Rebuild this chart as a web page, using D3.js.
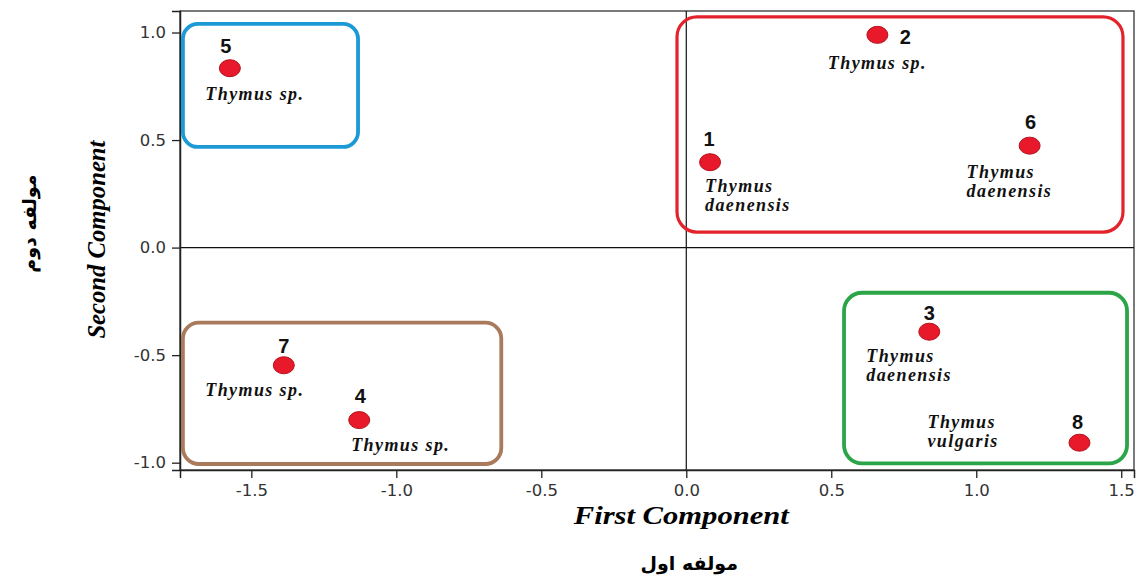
<!DOCTYPE html>
<html>
<head>
<meta charset="utf-8">
<script src="https://cdn.jsdelivr.net/npm/d3@7"></script>
<style>
	body { margin: 0; background: #fff; }
	svg { display: block; }
</style>
</head>
<body>
<div class="js-graph"></div>
<script>
// sample scores on the first two components
var ids = ['1', '2', '3', '4', '5', '6', '7', '8'],
	firstComp = [0.082, 0.659, 0.838, -1.128, -1.574, 1.184, -1.388, 1.356],
	secondComp = [0.397, 0.989, -0.391, -0.802, 0.834, 0.474, -0.547, -0.907],
	species = [
		['Thymus', 'daenensis'], ['Thymus sp.'], ['Thymus', 'daenensis'], ['Thymus sp.'],
		['Thymus sp.'], ['Thymus', 'daenensis'], ['Thymus sp.'], ['Thymus', 'vulgaris']
	],
	xTicks = [-1.5, -1.0, -0.5, 0.0, 0.5, 1.0, 1.5],
	yTicks = [-1.0, -0.5, 0.0, 0.5, 1.0];

// group boxes in data units
var groupNames = ['blue', 'red', 'brown', 'green'],
	groupX = [[-1.736, -1.132], [-0.032, 1.506], [-1.736, -0.638], [0.544, 1.52]],
	groupY = [[0.468, 1.04], [0.072, 1.073], [-1.006, -0.349], [-1.003, -0.21]];

(function(d3) {
	var W = 1140, H = 581,
		m = { top: 11, right: 6, bottom: 111, left: 180 },
		iw = W - m.left - m.right,
		ih = H - m.top - m.bottom;

	var svg = d3.select('.js-graph').append('svg')
		.attr('width', W).attr('height', H);

	var x = d3.scaleLinear().domain([-1.746, 1.544]).range([0, iw]),
		y = d3.scaleLinear().domain([-1.034, 1.1]).range([ih, 0]);

	var g = svg.append('g').attr('transform', 'translate(' + m.left + ',' + m.top + ')');

	// frame
	g.append('rect')
		.attr('width', iw).attr('height', ih)
		.attr('fill', 'none').attr('stroke', '#222').attr('stroke-width', 1.2);

	// zero lines
	g.append('line')
		.attr('x1', x(0)).attr('x2', x(0)).attr('y1', 0).attr('y2', ih)
		.attr('stroke', '#111').attr('stroke-width', 1.2);
	g.append('line')
		.attr('x1', 0).attr('x2', iw).attr('y1', y(0)).attr('y2', y(0))
		.attr('stroke', '#111').attr('stroke-width', 1.2);

	// axes (plain hyphen for negatives, like the original)
	var fmt = function(v) { return d3.format('.1f')(v).replace('\u2212', '-'); };
	var xAxis = g.append('g')
		.attr('transform', 'translate(0,' + ih + ')')
		.call(d3.axisBottom(x).tickValues(xTicks).tickFormat(fmt).tickSize(8).tickPadding(6));
	var yAxis = g.append('g')
		.call(d3.axisLeft(y).tickValues(yTicks).tickFormat(fmt).tickSize(8).tickPadding(6));
	[xAxis, yAxis].forEach(function(a) {
		a.select('.domain').attr('stroke', '#222').attr('stroke-width', 1.5);
		a.selectAll('.tick line').attr('stroke', '#222').attr('stroke-width', 1.3);
		a.selectAll('.tick text')
			.attr('fill', '#333')
			.style('font-family', 'DejaVu Sans, Verdana, sans-serif')
			.style('font-size', '16.5px');
	});

	// group boxes
	var groupColor = { blue: '#1c9ad6', red: '#e2232b', brown: '#a97a5c', green: '#2ba547' },
		groupRadius = { blue: 15, red: 20, brown: 16, green: 18 };
	g.selectAll('rect.group')
		.data(groupNames)
		.enter()
		.append('rect')
		.attr('class', 'group')
		.attr('x', function(d, i) { return x(groupX[i][0]); })
		.attr('y', function(d, i) { return y(groupY[i][1]); })
		.attr('width', function(d, i) { return x(groupX[i][1]) - x(groupX[i][0]); })
		.attr('height', function(d, i) { return y(groupY[i][0]) - y(groupY[i][1]); })
		.attr('rx', function(d) { return groupRadius[d]; })
		.attr('fill', 'none')
		.attr('stroke', function(d) { return groupColor[d]; })
		.attr('stroke-width', function(d) { return d === 'red' ? 3.2 : 3.8; });

	var points = ids.map(function(id, i) {
		return { id: id, x: firstComp[i], y: secondComp[i], name: species[i] };
	});

	// label offsets in pixels: [numDx, numDy, nameDx, nameDy, anchor]
	var offs = {
		'1': [-1, -16, -5, 30, 'start'],
		'2': [28, 9, 0, 34, 'middle'],
		'3': [0, -12, -63, 30, 'start'],
		'4': [1, -17, -8, 31, 'start'],
		'5': [-4, -15, 25, 32, 'middle'],
		'6': [1, -17, -63, 32, 'start'],
		'7': [0, -12, -29, 31, 'middle'],
		'8': [-2, -14, -152, -15, 'start']
	};

	g.selectAll('ellipse.pt')
		.data(points)
		.enter()
		.append('ellipse')
		.attr('class', 'pt')
		.attr('cx', function(d) { return x(d.x); })
		.attr('cy', function(d) { return y(d.y); })
		.attr('rx', 10.5)
		.attr('ry', 8.5)
		.attr('fill', '#e8192a')
		.attr('stroke', '#b3121c')
		.attr('stroke-width', 1);

	g.selectAll('text.num')
		.data(points)
		.enter()
		.append('text')
		.attr('class', 'num')
		.attr('x', function(d) { return x(d.x) + offs[d.id][0]; })
		.attr('y', function(d) { return y(d.y) + offs[d.id][1]; })
		.attr('text-anchor', 'middle')
		.style('font-family', 'Liberation Sans, Arial, sans-serif')
		.style('font-weight', 'bold')
		.style('font-size', '20px')
		.attr('fill', '#111')
		.text(function(d) { return d.id; });

	var names = g.selectAll('text.name')
		.data(points)
		.enter()
		.append('text')
		.attr('class', 'name')
		.attr('x', function(d) { return x(d.x) + offs[d.id][2]; })
		.attr('y', function(d) { return y(d.y) + offs[d.id][3]; })
		.attr('text-anchor', function(d) { return offs[d.id][4]; })
		.style('font-family', 'Liberation Serif, Times New Roman, serif')
		.style('font-weight', 'bold')
		.style('font-style', 'italic')
		.style('font-size', '18px')
		.style('letter-spacing', '1.4px')
		.attr('fill', '#111');
	names.selectAll('tspan')
		.data(function(d) { return d.name.map(function(s) { return { s: s, x: x(d.x) + offs[d.id][2] }; }); })
		.enter()
		.append('tspan')
		.attr('x', function(d) { return d.x; })
		.attr('dy', function(d, i) { return i === 0 ? 0 : 19; })
		.text(function(d) { return d.s; });

	// axis titles
	svg.append('text')
		.attr('x', m.left + x(0) - 5).attr('y', 524)
		.attr('text-anchor', 'middle')
		.attr('textLength', 215).attr('lengthAdjust', 'spacingAndGlyphs')
		.style('font-family', 'Liberation Serif, Times New Roman, serif')
		.style('font-weight', 'bold').style('font-style', 'italic')
		.style('font-size', '25px')
		.text('First Component');
	svg.append('text')
		.attr('x', m.left + x(0) + 3).attr('y', 570)
		.attr('text-anchor', 'middle')
		.attr('direction', 'rtl')
		.style('font-family', 'DejaVu Sans, sans-serif')
		.style('font-weight', 'bold')
		.style('font-size', '19px')
		.text('مولفه اول');
	svg.append('text')
		.attr('transform', 'translate(105,' + (m.top + y(0) - 8) + ') rotate(-90)')
		.attr('text-anchor', 'middle')
		.attr('textLength', 198).attr('lengthAdjust', 'spacingAndGlyphs')
		.style('font-family', 'Liberation Serif, Times New Roman, serif')
		.style('font-weight', 'bold').style('font-style', 'italic')
		.style('font-size', '25px')
		.text('Second Component');
	svg.append('text')
		.attr('transform', 'translate(36,' + (m.top + y(0) - 24) + ') rotate(-90)')
		.attr('text-anchor', 'middle')
		.attr('direction', 'rtl')
		.style('font-family', 'DejaVu Sans, sans-serif')
		.style('font-weight', 'bold')
		.style('font-size', '19px')
		.text('مولفه دوم');
})(d3);
</script>
</body>
</html>
